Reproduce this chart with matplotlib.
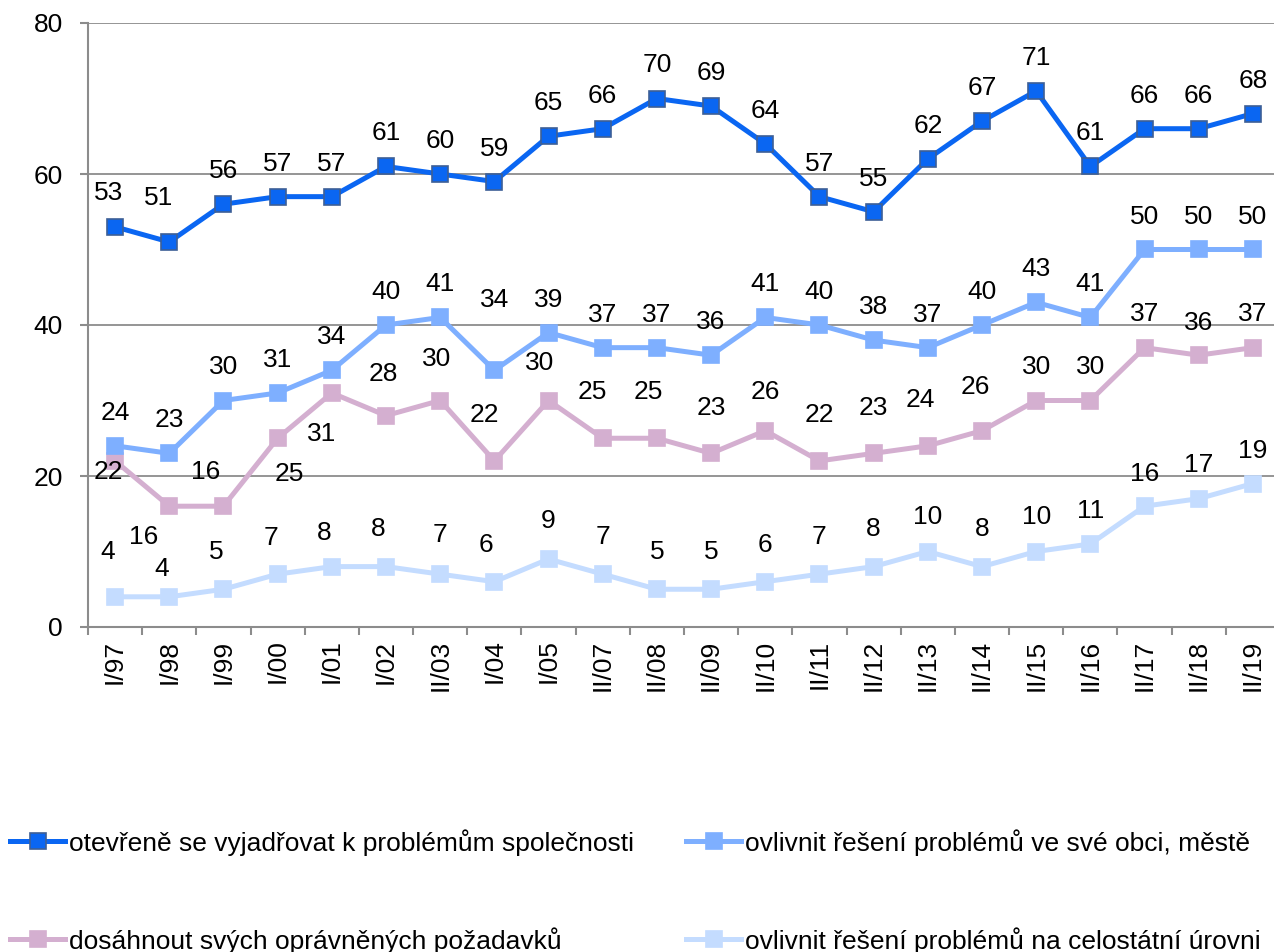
import matplotlib
matplotlib.use("Agg")
from matplotlib import pyplot as plt
import numpy as np

plt.rcParams['font.family'] = ['Liberation Sans', 'DejaVu Sans']

# data
periods = ["I/97", "I/98", "I/99", "I/00", "I/01", "I/02", "II/03", "I/04", "I/05", "II/07",
           "II/08", "II/09", "II/10", "II/11", "II/12", "II/13", "II/14", "II/15", "II/16",
           "II/17", "II/18", "II/19"]
otevrene = [53, 51, 56, 57, 57, 61, 60, 59, 65, 66, 70, 69, 64, 57, 55, 62, 67, 71, 61, 66, 66, 68]
obec = [24, 23, 30, 31, 34, 40, 41, 34, 39, 37, 37, 36, 41, 40, 38, 37, 40, 43, 41, 50, 50, 50]
pozadavky = [22, 16, 16, 25, 31, 28, 30, 22, 30, 25, 25, 23, 26, 22, 23, 24, 26, 30, 30, 37, 36, 37]
celostatni = [4, 4, 5, 7, 8, 8, 7, 6, 9, 7, 5, 5, 6, 7, 8, 10, 8, 10, 11, 16, 17, 19]

names = ["otevřeně se vyjadřovat k problémům společnosti",
         "ovlivnit řešení problémů ve své obci, městě",
         "dosáhnout svých oprávněných požadavků",
         "ovlivnit řešení problémů na celostátní úrovni"]

# label offsets in pixels (dx, dy), dy up
off1 = [(-7, 34), (-11, 44)] + [(0, 33)] * 20
off2 = [(0, 33)] * 7 + [(0, 70)] + [(0, 33)] * 14
off3 = [(-7, -11), (-26, -31), (-18, 34), (12, -36), (-10, -41), (-3, 42), (-4, 41),
        (-10, 46), (-9, 38), (-10, 46), (-9, 46), (0, 45), (0, 39), (0, 46), (0, 45),
        (-8, 46), (-7, 44), (0, 33), (0, 33), (0, 34), (0, 32), (0, 34)]
off4 = [(-7, 45), (-8, 28), (-7, 37), (-7, 36), (-8, 34), (-8, 38), (0, 39), (-8, 37),
        (0, 38), (0, 37), (0, 37), (0, 37), (0, 37), (0, 37), (0, 38), (0, 35), (0, 38),
        (0, 35), (0, 33), (0, 32), (0, 34), (0, 33)]

colors = ['#0A66F2', '#7EAFFF', '#D4AFD0', '#C4DCFF']
fs = 19

fig = plt.figure(figsize=(12.74, 9.52), dpi=100)
ax = fig.add_axes([88 / 1274, 1 - 627 / 952, (1280 - 88) / 1274, (627 - 23) / 952])

x = np.arange(len(periods))
series = [(otevrene, off1), (obec, off2), (pozadavky, off3), (celostatni, off4)]
handles = []
for i, (vals, offs) in enumerate(series):
    mec = '#3D5F96' if i == 0 else colors[i]
    ln, = ax.plot(x, vals, color=colors[i], lw=3.6, marker='s', markersize=11,
                  markerfacecolor=colors[i], markeredgecolor=mec, markeredgewidth=1.2,
                  zorder=3 + (3 - i), label=names[i])
    handles.append(ln)
    for xi, v, (dx, dy) in zip(x, vals, offs):
        ax.annotate(str(v), (xi, v), xytext=(dx, dy), textcoords='offset pixels',
                    ha='center', va='center', fontsize=fs, color='black', zorder=10)

ax.set_xlim(-0.5, len(periods) - 0.5)
ax.set_ylim(0, 80)
ax.set_yticks([0, 20, 40, 60, 80])
ax.yaxis.grid(True, color='#8C8C8C', lw=1.3)
ax.set_axisbelow(True)
for s in ['top', 'right']:
    ax.spines[s].set_visible(False)
for s in ['left', 'bottom']:
    ax.spines[s].set_color('#8C8C8C')
    ax.spines[s].set_linewidth(1.5)

ax.set_xticks(x)
ax.set_xticklabels(periods, rotation=90, fontsize=fs)
ax.set_xticks(np.arange(-0.5, len(periods)), minor=True)
ax.tick_params(axis='x', which='major', length=0, pad=9)
ax.tick_params(axis='x', which='minor', length=6, width=1.5, color='#8C8C8C')
ax.tick_params(axis='y', length=6, width=1.5, color='#8C8C8C', labelsize=fs, pad=12)

# legend, two columns placed separately
kw = dict(frameon=False, fontsize=fs, handlelength=2.1, handletextpad=0.15,
          labelspacing=2.7, borderaxespad=0, borderpad=0, loc='upper left')
fig.legend([handles[0], handles[2]], [names[0], names[2]],
           bbox_to_anchor=(10 / 1274, 1 - 829 / 952), **kw)
fig.legend([handles[1], handles[3]], [names[1], names[3]],
           bbox_to_anchor=(686 / 1274, 1 - 829 / 952), **kw)

plt.savefig('out.png', dpi=100)
